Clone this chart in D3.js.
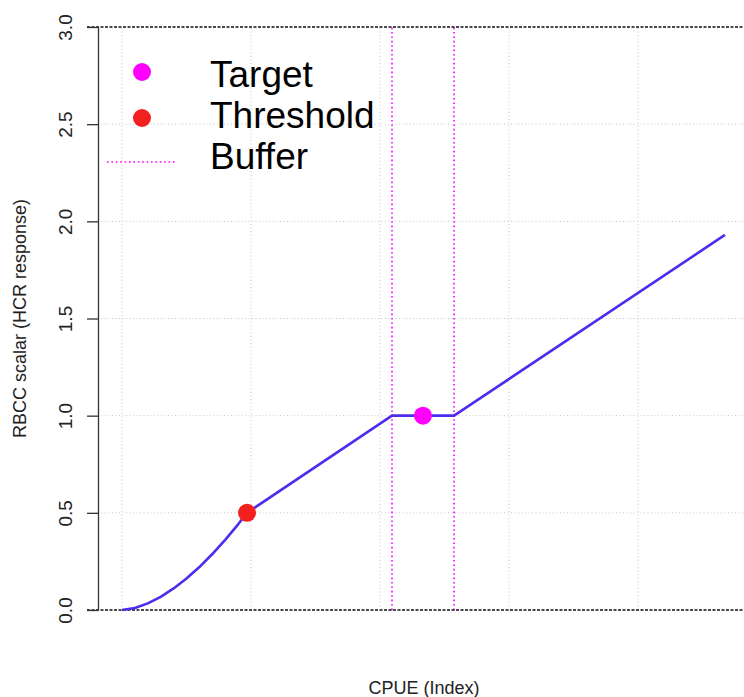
<!DOCTYPE html>
<html>
<head>
<meta charset="utf-8">
<script src="https://cdn.jsdelivr.net/npm/d3@7"></script>
<style>
  body { margin: 0; background: #fff; }
  svg { display: block; font-family: "Liberation Sans", Arial, sans-serif; }
</style>
</head>
<body>
<svg id="svg" width="744" height="697"></svg>
<script>
// HCR curve (CPUE index vs RBCC scalar)
const cpue = [0, 0.1, 0.2, 0.3, 0.4, 0.5, 0.6, 0.7, 0.8, 0.9, 0.969, 2.093, 2.574, 4.674];
const rbcc = [0, 0.0105, 0.034, 0.068, 0.111, 0.162, 0.221, 0.288, 0.361, 0.441, 0.5, 1.0, 1.0, 1.93];

const threshold = [0.969, 0.5];
const target = [2.333, 1.0];
const buffer = [2.093, 2.574];

const yTicks = [0, 0.5, 1, 1.5, 2, 2.5, 3];
const yTickLabels = ["0.0", "0.5", "1.0", "1.5", "2.0", "2.5", "3.0"];
const gridX = [0, 1, 2, 3, 4];
const gridY = [0.5, 1, 1.5, 2, 2.5];
const hLines = [0, 3];

const legendLabels = ["Target", "Threshold", "Buffer"];

const svg = d3.select("#svg");
const x = d3.scaleLinear().domain([0, 4]).range([122, 638]);
const y = d3.scaleLinear().domain([0, 3]).range([610, 27]);

// grid (R grid(), lty=3)
svg.selectAll(".gx").data(gridX).enter().append("line")
  .attr("x1", d => x(d)).attr("x2", d => x(d))
  .attr("y1", y(0)).attr("y2", y(3))
  .attr("stroke", "#c4c4c4").attr("stroke-width", 1)
  .attr("stroke-dasharray", "1,2.5");
svg.selectAll(".gy").data(gridY).enter().append("line")
  .attr("x1", 98).attr("x2", 744)
  .attr("y1", d => y(d)).attr("y2", d => y(d))
  .attr("stroke", "#c4c4c4").attr("stroke-width", 1)
  .attr("stroke-dasharray", "1,2.5");

// buffer lines
svg.selectAll(".buf").data(buffer).enter().append("line")
  .attr("x1", d => x(d)).attr("x2", d => x(d))
  .attr("y1", y(0)).attr("y2", y(3))
  .attr("stroke", "#ff00ff").attr("stroke-width", 1.6)
  .attr("stroke-dasharray", "1.6,2.8");

// black dashed lines at 0 and 3
svg.selectAll(".hl").data(hLines).enter().append("line")
  .attr("x1", 87).attr("x2", 744)
  .attr("y1", d => y(d)).attr("y2", d => y(d))
  .attr("stroke", "#111").attr("stroke-width", 1.4)
  .attr("stroke-dasharray", "3,1.5");

// y axis
const yAxis = d3.axisLeft(y).tickValues(yTicks)
  .tickFormat((d, i) => yTickLabels[i]).tickSize(11).tickSizeOuter(0);
const gA = svg.append("g").attr("transform", "translate(98,0)").call(yAxis);
gA.select(".domain").attr("stroke", "#333").attr("stroke-width", 1.3);
gA.selectAll(".tick line").attr("stroke", "#333").attr("stroke-width", 1.3);
gA.selectAll(".tick text")
  .attr("x", 0).attr("dy", null).attr("text-anchor", "middle")
  .attr("transform", "translate(-26.5,0) rotate(-90)")
  .attr("font-size", 19).attr("fill", "#222");

// curve
const line = d3.line().x((d, i) => x(cpue[i])).y(d => y(d));
svg.append("path").datum(rbcc)
  .attr("d", line)
  .attr("fill", "none")
  .attr("stroke", "#4f2bef").attr("stroke-width", 2.6)
  .attr("stroke-linejoin", "round");

// points
svg.append("circle").attr("cx", x(threshold[0])).attr("cy", y(threshold[1]))
  .attr("r", 9).attr("fill", "#f2201f");
svg.append("circle").attr("cx", x(target[0])).attr("cy", y(target[1]))
  .attr("r", 9).attr("fill", "#ff00ff");

// legend
const lg = svg.append("g");
lg.append("circle").attr("cx", 142).attr("cy", 72).attr("r", 9).attr("fill", "#ff00ff");
lg.append("circle").attr("cx", 142).attr("cy", 118).attr("r", 9).attr("fill", "#f2201f");
lg.append("line").attr("x1", 107).attr("x2", 175).attr("y1", 162).attr("y2", 162)
  .attr("stroke", "#ff00ff").attr("stroke-width", 1.6).attr("stroke-dasharray", "1.6,2.8");
lg.selectAll("text").data(legendLabels).enter().append("text")
  .attr("x", 210).attr("y", (d, i) => 87 + i * 41)
  .attr("font-size", 37).attr("fill", "#000")
  .text(d => d);

// axis titles
svg.append("text").attr("x", 424).attr("y", 694)
  .attr("text-anchor", "middle").attr("font-size", 18).attr("fill", "#222")
  .text("CPUE (Index)");
svg.append("text")
  .attr("transform", "translate(26," + ((y(0) + y(3)) / 2) + ") rotate(-90)")
  .attr("text-anchor", "middle").attr("font-size", 18).attr("fill", "#222")
  .text("RBCC scalar (HCR response)");
</script>
</body>
</html>
